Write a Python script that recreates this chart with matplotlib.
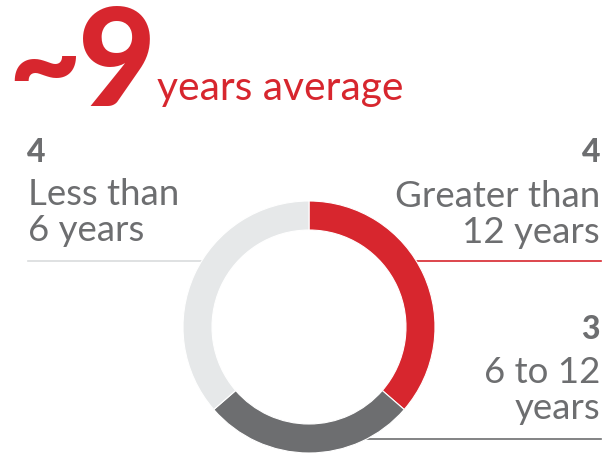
import numpy as np
import matplotlib.pyplot as plt

counts = [4, 3, 4]
count_labels = ["4", "3", "4"]
names = ["Greater than\n12 years", "6 to 12\nyears", "Less than\n6 years"]
colors = ["#d7262e", "#6d6e70", "#e6e8e9"]
headline = "~9"
headline_sub = "years average"

W, H = 604, 455
red = "#d7262e"
grey = "#6d6e70"

plt.rcParams['font.family'] = ['Lato', 'DejaVu Sans']

fig = plt.figure(figsize=(W / 100, H / 100), dpi=100)
ax = fig.add_axes([0, 0, 1, 1])

# donut, clockwise from 12 o'clock
ax.pie(counts, colors=colors, startangle=90, counterclock=False,
       center=(309, H - 327), radius=126,
       wedgeprops=dict(width=29, edgecolor="white", linewidth=0.8))

# leader lines
ax.plot([28, 205], [H - 261, H - 261], color="#d9dcdd", lw=1.2, zorder=0)
ax.plot([412, 601], [H - 261, H - 261], color=red, lw=1.2, zorder=0)
ax.plot([365, 601], [H - 439, H - 439], color=grey, lw=1.2, zorder=0)

# headline
ax.text(8, H - 106, headline[0], fontsize=90, fontweight="black", color=red,
        ha="left", va="baseline")
ax.text(78, H - 106, headline[1], fontsize=97, fontweight="black", color=red,
        ha="left", va="baseline")
ax.text(157, H - 100, headline_sub, fontsize=29.3, color=red,
        ha="left", va="baseline")

# labels
lab = dict(fontsize=26.4, color=grey, va="baseline", linespacing=1.12)
num = dict(fontsize=23, fontweight="black", color=grey, va="baseline")

ax.text(27, H - 162, count_labels[2], ha="left", **num)
ax.text(28, H - 241, names[2], ha="left", **lab)

ax.text(600, H - 162, count_labels[0], ha="right", **num)
ax.text(600, H - 243, names[0], ha="right", multialignment="right", **lab)

ax.text(600, H - 339, count_labels[1], ha="right", **num)
ax.text(600, H - 419, names[1], ha="right", multialignment="right", **lab)

ax.set_xlim(0, W)
ax.set_ylim(0, H)
ax.set_aspect("auto")
ax.axis("off")

fig.savefig("out.png", dpi=100)
